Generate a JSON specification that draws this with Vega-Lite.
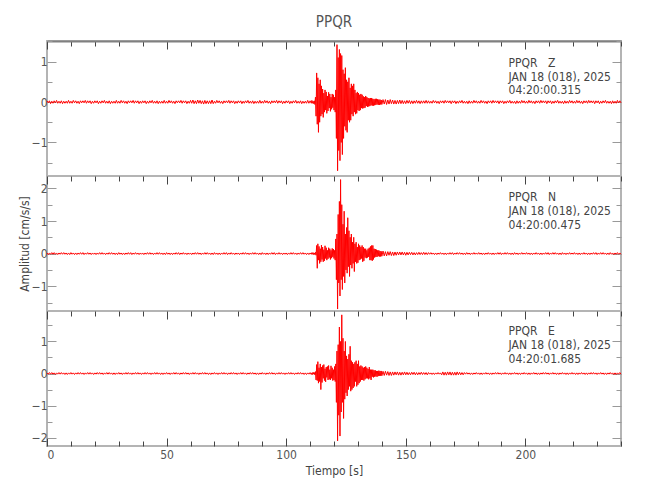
{
  "$schema": "https://vega.github.io/schema/vega-lite/v6.json",
  "background": "white",
  "padding": {"left": 17, "top": 14, "right": 5, "bottom": 5},
  "title": {"text": "PPQR", "fontSize": 15, "color": "#555555", "fontWeight": "normal", "anchor": "middle", "frame": "group", "offset": 10},
  "config": {
    "font": "Liberation Sans Narrow, DejaVu Sans Condensed, sans-serif",
    "view": {"stroke": "#b4b4b4", "strokeWidth": 2},
    "axis": {"domain": false, "grid": false, "labelColor": "#555555", "labelFontSize": 12, "titleColor": "#444444", "titleFontSize": 12, "titleFontWeight": "normal", "tickColor": "#444444"}
  },
  "spacing": 0,
  "bounds": "flush",
  "data": {"values": [
    {"t":0,"z":0.03,"n":0.02,"e":0.02},{"t":0.5,"z":-0.02,"n":-0.03,"e":-0.02},{"t":1,"z":0.03,"n":0.02,"e":0.03},{"t":1.5,"z":-0.04,"n":-0.02,"e":-0.02},{"t":2,"z":0.02,"n":0.03,"e":0.03},{"t":2.5,"z":-0.03,"n":-0.02,"e":-0.02},{"t":3,"z":0.03,"n":0.03,"e":0.02},{"t":3.5,"z":-0.02,"n":-0.02,"e":-0.03},{"t":4,"z":0.04,"n":0.02,"e":0.02},{"t":4.5,"z":-0.03,"n":-0.03,"e":-0.02},{"t":5,"z":0.02,"n":0.02,"e":0.03},{"t":5.5,"z":-0.03,"n":-0.02,"e":-0.02},{"t":6,"z":0.03,"n":0.03,"e":0.03},{"t":6.5,"z":-0.04,"n":-0.02,"e":-0.02},{"t":7,"z":0.02,"n":0.03,"e":0.02},{"t":7.5,"z":-0.03,"n":-0.02,"e":-0.03},{"t":8,"z":0.02,"n":0.02,"e":0.02},{"t":8.5,"z":-0.03,"n":-0.03,"e":-0.03},{"t":9,"z":0.04,"n":0.02,"e":0.02},{"t":9.5,"z":-0.03,"n":-0.03,"e":-0.02},
    {"t":10,"z":0.02,"n":0.03,"e":0.03},{"t":10.5,"z":-0.03,"n":-0.02,"e":-0.02},{"t":11,"z":0.04,"n":0.02,"e":0.02},{"t":11.5,"z":-0.02,"n":-0.03,"e":-0.03},{"t":12,"z":0.03,"n":0.02,"e":0.02},{"t":12.5,"z":-0.03,"n":-0.03,"e":-0.02},{"t":13,"z":0.02,"n":0.02,"e":0.03},{"t":13.5,"z":-0.04,"n":-0.02,"e":-0.02},{"t":14,"z":0.03,"n":0.03,"e":0.03},{"t":14.5,"z":-0.02,"n":-0.02,"e":-0.02},{"t":15,"z":0.03,"n":0.03,"e":0.02},{"t":15.5,"z":-0.02,"n":-0.03,"e":-0.03},{"t":16,"z":0.04,"n":0.02,"e":0.02},{"t":16.5,"z":-0.03,"n":-0.02,"e":-0.02},{"t":17,"z":0.03,"n":0.03,"e":0.03},{"t":17.5,"z":-0.02,"n":-0.02,"e":-0.02},{"t":18,"z":0.03,"n":0.02,"e":0.03},{"t":18.5,"z":-0.04,"n":-0.03,"e":-0.02},{"t":19,"z":0.02,"n":0.02,"e":0.02},{"t":19.5,"z":-0.03,"n":-0.02,"e":-0.03},
    {"t":20,"z":0.03,"n":0.02,"e":0.02},{"t":20.5,"z":-0.02,"n":-0.03,"e":-0.02},{"t":21,"z":0.03,"n":0.02,"e":0.03},{"t":21.5,"z":-0.04,"n":-0.02,"e":-0.02},{"t":22,"z":0.02,"n":0.03,"e":0.03},{"t":22.5,"z":-0.03,"n":-0.02,"e":-0.02},{"t":23,"z":0.03,"n":0.03,"e":0.02},{"t":23.5,"z":-0.02,"n":-0.02,"e":-0.03},{"t":24,"z":0.04,"n":0.02,"e":0.02},{"t":24.5,"z":-0.03,"n":-0.03,"e":-0.02},{"t":25,"z":0.02,"n":0.02,"e":0.03},{"t":25.5,"z":-0.03,"n":-0.02,"e":-0.02},{"t":26,"z":0.03,"n":0.03,"e":0.03},{"t":26.5,"z":-0.04,"n":-0.02,"e":-0.02},{"t":27,"z":0.02,"n":0.03,"e":0.02},{"t":27.5,"z":-0.03,"n":-0.02,"e":-0.03},{"t":28,"z":0.02,"n":0.02,"e":0.02},{"t":28.5,"z":-0.03,"n":-0.03,"e":-0.03},{"t":29,"z":0.04,"n":0.02,"e":0.02},{"t":29.5,"z":-0.03,"n":-0.03,"e":-0.02},
    {"t":30,"z":0.02,"n":0.03,"e":0.03},{"t":30.5,"z":-0.03,"n":-0.02,"e":-0.02},{"t":31,"z":0.04,"n":0.02,"e":0.02},{"t":31.5,"z":-0.02,"n":-0.03,"e":-0.03},{"t":32,"z":0.03,"n":0.02,"e":0.02},{"t":32.5,"z":-0.03,"n":-0.03,"e":-0.02},{"t":33,"z":0.02,"n":0.02,"e":0.03},{"t":33.5,"z":-0.04,"n":-0.02,"e":-0.02},{"t":34,"z":0.03,"n":0.03,"e":0.03},{"t":34.5,"z":-0.02,"n":-0.02,"e":-0.02},{"t":35,"z":0.03,"n":0.03,"e":0.02},{"t":35.5,"z":-0.02,"n":-0.03,"e":-0.03},{"t":36,"z":0.04,"n":0.02,"e":0.02},{"t":36.5,"z":-0.03,"n":-0.02,"e":-0.02},{"t":37,"z":0.03,"n":0.03,"e":0.03},{"t":37.5,"z":-0.02,"n":-0.02,"e":-0.02},{"t":38,"z":0.03,"n":0.02,"e":0.03},{"t":38.5,"z":-0.04,"n":-0.03,"e":-0.02},{"t":39,"z":0.02,"n":0.02,"e":0.02},{"t":39.5,"z":-0.03,"n":-0.02,"e":-0.03},
    {"t":40,"z":0.03,"n":0.02,"e":0.02},{"t":40.5,"z":-0.02,"n":-0.03,"e":-0.02},{"t":41,"z":0.03,"n":0.02,"e":0.03},{"t":41.5,"z":-0.04,"n":-0.02,"e":-0.02},{"t":42,"z":0.02,"n":0.03,"e":0.03},{"t":42.5,"z":-0.03,"n":-0.02,"e":-0.02},{"t":43,"z":0.03,"n":0.03,"e":0.02},{"t":43.5,"z":-0.02,"n":-0.02,"e":-0.03},{"t":44,"z":0.04,"n":0.02,"e":0.02},{"t":44.5,"z":-0.03,"n":-0.03,"e":-0.02},{"t":45,"z":0.02,"n":0.02,"e":0.03},{"t":45.5,"z":-0.03,"n":-0.02,"e":-0.02},{"t":46,"z":0.03,"n":0.03,"e":0.03},{"t":46.5,"z":-0.04,"n":-0.02,"e":-0.02},{"t":47,"z":0.02,"n":0.03,"e":0.02},{"t":47.5,"z":-0.03,"n":-0.02,"e":-0.03},{"t":48,"z":0.02,"n":0.02,"e":0.02},{"t":48.5,"z":-0.03,"n":-0.03,"e":-0.03},{"t":49,"z":0.04,"n":0.02,"e":0.02},{"t":49.5,"z":-0.03,"n":-0.03,"e":-0.02},
    {"t":50,"z":0.02,"n":0.03,"e":0.03},{"t":50.5,"z":-0.03,"n":-0.02,"e":-0.02},{"t":51,"z":0.04,"n":0.02,"e":0.02},{"t":51.5,"z":-0.02,"n":-0.03,"e":-0.03},{"t":52,"z":0.03,"n":0.02,"e":0.02},{"t":52.5,"z":-0.03,"n":-0.03,"e":-0.02},{"t":53,"z":0.02,"n":0.02,"e":0.03},{"t":53.5,"z":-0.04,"n":-0.02,"e":-0.02},{"t":54,"z":0.03,"n":0.03,"e":0.03},{"t":54.5,"z":-0.02,"n":-0.02,"e":-0.02},{"t":55,"z":0.03,"n":0.03,"e":0.02},{"t":55.5,"z":-0.02,"n":-0.03,"e":-0.03},{"t":56,"z":0.04,"n":0.02,"e":0.02},{"t":56.5,"z":-0.03,"n":-0.02,"e":-0.02},{"t":57,"z":0.03,"n":0.03,"e":0.03},{"t":57.5,"z":-0.02,"n":-0.02,"e":-0.02},{"t":58,"z":0.03,"n":0.02,"e":0.03},{"t":58.5,"z":-0.04,"n":-0.03,"e":-0.02},{"t":59,"z":0.02,"n":0.02,"e":0.02},{"t":59.5,"z":-0.03,"n":-0.02,"e":-0.03},
    {"t":60,"z":0.04,"n":0.02,"e":0.02},{"t":60.5,"z":-0.03,"n":-0.03,"e":-0.02},{"t":61,"z":0.05,"n":0.02,"e":0.03},{"t":61.5,"z":-0.04,"n":-0.02,"e":-0.02},{"t":62,"z":0.03,"n":0.03,"e":0.03},{"t":62.5,"z":-0.04,"n":-0.02,"e":-0.02},{"t":63,"z":0.05,"n":0.03,"e":0.02},{"t":63.5,"z":-0.03,"n":-0.02,"e":-0.03},{"t":64,"z":0.04,"n":0.02,"e":0.02},{"t":64.5,"z":-0.04,"n":-0.03,"e":-0.02},{"t":65,"z":0.03,"n":0.02,"e":0.03},{"t":65.5,"z":-0.05,"n":-0.02,"e":-0.02},{"t":66,"z":0.04,"n":0.03,"e":0.03},{"t":66.5,"z":-0.04,"n":-0.02,"e":-0.02},{"t":67,"z":0.03,"n":0.03,"e":0.02},{"t":67.5,"z":-0.04,"n":-0.02,"e":-0.03},{"t":68,"z":0.03,"n":0.02,"e":0.02},{"t":68.5,"z":-0.04,"n":-0.03,"e":-0.03},{"t":69,"z":0.05,"n":0.02,"e":0.02},{"t":69.5,"z":-0.04,"n":-0.03,"e":-0.02},
    {"t":70,"z":0.02,"n":0.03,"e":0.03},{"t":70.5,"z":-0.03,"n":-0.02,"e":-0.02},{"t":71,"z":0.04,"n":0.02,"e":0.02},{"t":71.5,"z":-0.02,"n":-0.03,"e":-0.03},{"t":72,"z":0.03,"n":0.02,"e":0.02},{"t":72.5,"z":-0.03,"n":-0.03,"e":-0.02},{"t":73,"z":0.02,"n":0.02,"e":0.03},{"t":73.5,"z":-0.04,"n":-0.02,"e":-0.02},{"t":74,"z":0.03,"n":0.03,"e":0.03},{"t":74.5,"z":-0.02,"n":-0.02,"e":-0.02},{"t":75,"z":0.03,"n":0.03,"e":0.02},{"t":75.5,"z":-0.02,"n":-0.03,"e":-0.03},{"t":76,"z":0.04,"n":0.02,"e":0.02},{"t":76.5,"z":-0.03,"n":-0.02,"e":-0.02},{"t":77,"z":0.03,"n":0.03,"e":0.03},{"t":77.5,"z":-0.02,"n":-0.02,"e":-0.02},{"t":78,"z":0.03,"n":0.02,"e":0.03},{"t":78.5,"z":-0.04,"n":-0.03,"e":-0.02},{"t":79,"z":0.02,"n":0.02,"e":0.02},{"t":79.5,"z":-0.03,"n":-0.02,"e":-0.03},
    {"t":80,"z":0.03,"n":0.02,"e":0.02},{"t":80.5,"z":-0.02,"n":-0.03,"e":-0.02},{"t":81,"z":0.03,"n":0.02,"e":0.03},{"t":81.5,"z":-0.04,"n":-0.02,"e":-0.02},{"t":82,"z":0.02,"n":0.03,"e":0.03},{"t":82.5,"z":-0.03,"n":-0.02,"e":-0.02},{"t":83,"z":0.03,"n":0.03,"e":0.02},{"t":83.5,"z":-0.02,"n":-0.02,"e":-0.03},{"t":84,"z":0.04,"n":0.02,"e":0.02},{"t":84.5,"z":-0.03,"n":-0.03,"e":-0.02},{"t":85,"z":0.02,"n":0.02,"e":0.03},{"t":85.5,"z":-0.03,"n":-0.02,"e":-0.02},{"t":86,"z":0.03,"n":0.03,"e":0.03},{"t":86.5,"z":-0.04,"n":-0.02,"e":-0.02},{"t":87,"z":0.02,"n":0.03,"e":0.02},{"t":87.5,"z":-0.03,"n":-0.02,"e":-0.03},{"t":88,"z":0.02,"n":0.02,"e":0.02},{"t":88.5,"z":-0.03,"n":-0.03,"e":-0.03},{"t":89,"z":0.04,"n":0.02,"e":0.02},{"t":89.5,"z":-0.03,"n":-0.03,"e":-0.02},
    {"t":90,"z":0.02,"n":0.03,"e":0.03},{"t":90.5,"z":-0.03,"n":-0.02,"e":-0.02},{"t":91,"z":0.04,"n":0.02,"e":0.02},{"t":91.5,"z":-0.02,"n":-0.03,"e":-0.03},{"t":92,"z":0.03,"n":0.02,"e":0.02},{"t":92.5,"z":-0.03,"n":-0.03,"e":-0.02},{"t":93,"z":0.02,"n":0.02,"e":0.03},{"t":93.5,"z":-0.04,"n":-0.02,"e":-0.02},{"t":94,"z":0.03,"n":0.03,"e":0.03},{"t":94.5,"z":-0.02,"n":-0.02,"e":-0.02},{"t":95,"z":0.03,"n":0.03,"e":0.02},{"t":95.5,"z":-0.02,"n":-0.03,"e":-0.03},{"t":96,"z":0.04,"n":0.02,"e":0.02},{"t":96.5,"z":-0.03,"n":-0.02,"e":-0.02},{"t":97,"z":0.03,"n":0.03,"e":0.03},{"t":97.5,"z":-0.02,"n":-0.02,"e":-0.02},{"t":98,"z":0.03,"n":0.02,"e":0.03},{"t":98.5,"z":-0.04,"n":-0.03,"e":-0.02},{"t":99,"z":0.02,"n":0.02,"e":0.02},{"t":99.5,"z":-0.03,"n":-0.02,"e":-0.03},
    {"t":100,"z":0.03,"n":0.02,"e":0.02},{"t":100.5,"z":-0.02,"n":-0.03,"e":-0.02},{"t":101,"z":0.03,"n":0.02,"e":0.03},{"t":101.5,"z":-0.04,"n":-0.02,"e":-0.02},{"t":102,"z":0.02,"n":0.03,"e":0.03},{"t":102.5,"z":-0.03,"n":-0.02,"e":-0.02},{"t":103,"z":0.03,"n":0.03,"e":0.02},{"t":103.5,"z":-0.02,"n":-0.02,"e":-0.03},{"t":104,"z":0.04,"n":0.02,"e":0.02},{"t":104.5,"z":-0.03,"n":-0.03,"e":-0.02},{"t":105,"z":0.02,"n":0.02,"e":0.03},{"t":105.5,"z":-0.03,"n":-0.02,"e":-0.02},{"t":106,"z":0.03,"n":0.03,"e":0.03},{"t":106.5,"z":-0.04,"n":-0.02,"e":-0.02},{"t":107,"z":0.02,"n":0.03,"e":0.02},{"t":107.5,"z":-0.03,"n":-0.02,"e":-0.03},{"t":108,"z":0.02,"n":0.02,"e":0.02},{"t":108.5,"z":-0.03,"n":-0.03,"e":-0.03},{"t":109,"z":0.04,"n":0.02,"e":0.02},{"t":109.5,"z":-0.03,"n":-0.03,"e":-0.02},
    {"t":110,"z":0.03,"n":0.02,"e":0.03},
    {"t":110.5,"z":-0.03,"n":-0.02,"e":-0.03},{"t":110.75,"z":0.04,"n":0.03,"e":0.02},{"t":111,"z":-0.03,"n":-0.02,"e":-0.03},{"t":111.25,"z":0.02,"n":0.03,"e":0.04},{"t":111.5,"z":-0.04,"n":-0.03,"e":-0.02},{"t":111.75,"z":0.03,"n":0.02,"e":0.03},{"t":112,"z":-0.06,"n":-0.03,"e":-0.04},{"t":112.25,"z":0.12,"n":0.04,"e":0.06},{"t":112.5,"z":-0.35,"n":-0.05,"e":-0.2},{"t":112.75,"z":0.72,"n":0.25,"e":0.28},
    {"t":113,"z":-0.55,"n":-0.45,"e":-0.22},{"t":113.25,"z":0.6,"n":0.3,"e":0.37},{"t":113.5,"z":-0.75,"n":-0.2,"e":-0.3},{"t":113.75,"z":0.45,"n":0.22,"e":0.18},{"t":114,"z":-0.5,"n":-0.3,"e":-0.25},{"t":114.25,"z":0.55,"n":0.15,"e":0.3},{"t":114.5,"z":-0.35,"n":-0.25,"e":-0.5},{"t":114.75,"z":0.4,"n":0.26,"e":0.2},{"t":115,"z":-0.3,"n":-0.18,"e":-0.28},{"t":115.25,"z":0.32,"n":0.2,"e":0.25},
    {"t":115.5,"z":-0.38,"n":-0.25,"e":-0.15},{"t":115.75,"z":0.22,"n":0.12,"e":0.28},{"t":116,"z":-0.25,"n":-0.22,"e":-0.22},{"t":116.25,"z":0.3,"n":0.24,"e":0.15},{"t":116.5,"z":-0.2,"n":-0.15,"e":-0.26},{"t":116.75,"z":0.25,"n":0.18,"e":0.2},{"t":117,"z":-0.28,"n":-0.2,"e":-0.12},{"t":117.25,"z":0.15,"n":0.1,"e":0.22},{"t":117.5,"z":-0.22,"n":-0.16,"e":-0.2},{"t":117.75,"z":0.24,"n":0.18,"e":0.25},
    {"t":118,"z":-0.15,"n":-0.12,"e":-0.18},{"t":118.25,"z":0.2,"n":0.15,"e":0.12},{"t":118.5,"z":-0.23,"n":-0.18,"e":-0.2},{"t":118.75,"z":0.12,"n":0.1,"e":0.24},{"t":119,"z":-0.18,"n":-0.14,"e":-0.15},{"t":119.25,"z":0.2,"n":0.16,"e":0.18},{"t":119.5,"z":-0.14,"n":-0.1,"e":-0.22},{"t":119.75,"z":0.18,"n":0.14,"e":0.12},{"t":120,"z":-0.2,"n":-0.15,"e":-0.2},{"t":120.25,"z":0.12,"n":0.1,"e":0.22},
    {"t":120.5,"z":-0.25,"n":-0.2,"e":-0.25},{"t":120.75,"z":0.3,"n":0.45,"e":0.3},{"t":121,"z":-0.9,"n":-0.8,"e":-0.9},{"t":121.25,"z":1.42,"n":0.6,"e":0.7},{"t":121.5,"z":-1.7,"n":-1.7,"e":-2.1},{"t":121.75,"z":1.1,"n":1.2,"e":0.9},{"t":122,"z":-1.2,"n":-0.9,"e":-1.3},{"t":122.25,"z":1.3,"n":1.6,"e":1.45},{"t":122.5,"z":-1.45,"n":-1.3,"e":-1.95},{"t":122.75,"z":1.2,"n":2.27,"e":1.0},
    {"t":123,"z":-1.0,"n":-0.8,"e":-1.2},{"t":123.25,"z":1.15,"n":1.5,"e":1.83},{"t":123.5,"z":-1.3,"n":-1.1,"e":-0.9},{"t":123.75,"z":0.8,"n":0.9,"e":1.1},{"t":124,"z":-0.9,"n":-0.7,"e":-1.4},{"t":124.25,"z":0.7,"n":1.3,"e":0.7},{"t":124.5,"z":-0.6,"n":-0.9,"e":-0.8},{"t":124.75,"z":0.85,"n":0.6,"e":1.0},{"t":125,"z":-0.7,"n":-0.5,"e":-0.6},{"t":125.25,"z":0.55,"n":0.8,"e":0.55},
    {"t":125.5,"z":-0.75,"n":-0.6,"e":-0.7},{"t":125.75,"z":0.5,"n":1.1,"e":0.45},{"t":126,"z":-0.45,"n":-0.4,"e":-0.5},{"t":126.25,"z":0.6,"n":0.7,"e":0.6},{"t":126.5,"z":-0.5,"n":-0.7,"e":-0.4},{"t":126.75,"z":0.35,"n":0.5,"e":0.85},{"t":127,"z":-0.45,"n":-0.35,"e":-0.55},{"t":127.25,"z":0.45,"n":0.6,"e":0.4},{"t":127.5,"z":-0.3,"n":-0.45,"e":-0.5},{"t":127.75,"z":0.4,"n":0.35,"e":0.35},
    {"t":128,"z":-0.35,"n":-0.3,"e":-0.45},{"t":128.25,"z":0.45,"n":0.5,"e":0.3},{"t":128.5,"z":-0.25,"n":-0.55,"e":-0.4},{"t":128.75,"z":0.3,"n":0.3,"e":0.35},{"t":129,"z":-0.3,"n":-0.25,"e":-0.25},{"t":129.25,"z":0.22,"n":0.35,"e":0.4},{"t":129.5,"z":-0.28,"n":-0.3,"e":-0.4},{"t":129.75,"z":0.25,"n":0.2,"e":0.3},{"t":130,"z":-0.2,"n":-0.28,"e":-0.35},{"t":130.25,"z":0.22,"n":0.3,"e":0.4},
    {"t":130.5,"z":-0.22,"n":-0.2,"e":-0.3},{"t":130.75,"z":0.18,"n":0.25,"e":0.22},{"t":131,"z":-0.2,"n":-0.18,"e":-0.25},{"t":131.25,"z":0.2,"n":0.2,"e":0.25},{"t":131.5,"z":-0.15,"n":-0.15,"e":-0.2},{"t":131.75,"z":0.18,"n":0.25,"e":0.22},{"t":132,"z":-0.16,"n":-0.25,"e":-0.2},{"t":132.25,"z":0.14,"n":0.2,"e":0.18},{"t":132.5,"z":-0.15,"n":-0.22,"e":-0.22},{"t":132.75,"z":0.12,"n":0.15,"e":0.2},
    {"t":133,"z":-0.14,"n":-0.12,"e":-0.18},{"t":133.25,"z":0.15,"n":0.15,"e":0.22},{"t":133.5,"z":-0.1,"n":-0.14,"e":-0.15},{"t":133.75,"z":0.12,"n":0.1,"e":0.18},{"t":134,"z":-0.12,"n":-0.12,"e":-0.15},{"t":134.25,"z":0.1,"n":0.15,"e":0.14},{"t":134.5,"z":-0.11,"n":-0.1,"e":-0.18},{"t":134.75,"z":0.09,"n":0.18,"e":0.2},{"t":135,"z":-0.1,"n":-0.2,"e":-0.15},{"t":135.25,"z":0.1,"n":0.22,"e":0.12},
    {"t":135.5,"z":-0.08,"n":-0.2,"e":-0.2},{"t":135.75,"z":0.1,"n":0.25,"e":0.12},{"t":136,"z":-0.09,"n":-0.22,"e":-0.1},{"t":136.25,"z":0.08,"n":0.25,"e":0.12},{"t":136.5,"z":-0.09,"n":-0.18,"e":-0.12},{"t":136.75,"z":0.07,"n":0.15,"e":0.1},{"t":137,"z":-0.08,"n":-0.12,"e":-0.1},{"t":137.25,"z":0.08,"n":0.14,"e":0.1},{"t":137.5,"z":-0.07,"n":-0.1,"e":-0.09},{"t":137.75,"z":0.08,"n":0.12,"e":0.08},
    {"t":138,"z":-0.06,"n":-0.1,"e":-0.1},{"t":138.25,"z":0.07,"n":0.1,"e":0.08},{"t":138.5,"z":-0.07,"n":-0.08,"e":-0.08},{"t":138.75,"z":0.06,"n":0.1,"e":0.09},{"t":139,"z":-0.07,"n":-0.09,"e":-0.07},{"t":139.25,"z":0.06,"n":0.08,"e":0.08},{"t":139.5,"z":-0.06,"n":-0.09,"e":-0.07},{"t":139.75,"z":0.05,"n":0.07,"e":0.08},{"t":140,"z":-0.06,"n":-0.08,"e":-0.07},
    {"t":140.5,"z":0.06,"n":0.08,"e":0.07},{"t":141,"z":-0.05,"n":-0.07,"e":-0.06},{"t":141.5,"z":0.06,"n":0.06,"e":0.07},{"t":142,"z":-0.06,"n":-0.07,"e":-0.05},{"t":142.5,"z":0.05,"n":0.06,"e":0.06},{"t":143,"z":-0.05,"n":-0.05,"e":-0.06},{"t":143.5,"z":0.06,"n":0.06,"e":0.05},{"t":144,"z":-0.04,"n":-0.06,"e":-0.06},{"t":144.5,"z":0.05,"n":0.05,"e":0.05},{"t":145,"z":-0.05,"n":-0.06,"e":-0.05},
    {"t":145.5,"z":0.04,"n":0.05,"e":0.05},{"t":146,"z":-0.05,"n":-0.05,"e":-0.04},{"t":146.5,"z":0.04,"n":0.05,"e":0.05},{"t":147,"z":-0.04,"n":-0.04,"e":-0.05},{"t":147.5,"z":0.05,"n":0.05,"e":0.04},{"t":148,"z":-0.04,"n":-0.04,"e":-0.05},{"t":148.5,"z":0.04,"n":0.05,"e":0.04},{"t":149,"z":-0.04,"n":-0.04,"e":-0.04},{"t":149.5,"z":0.03,"n":0.04,"e":0.05},
    {"t":150,"z":-0.04,"n":-0.05,"e":-0.04},{"t":150.5,"z":0.04,"n":0.04,"e":0.04},{"t":151,"z":-0.03,"n":-0.04,"e":-0.04},{"t":151.5,"z":0.04,"n":0.04,"e":0.03},{"t":152,"z":-0.04,"n":-0.03,"e":-0.04},{"t":152.5,"z":0.03,"n":0.04,"e":0.04},{"t":153,"z":-0.04,"n":-0.04,"e":-0.03},{"t":153.5,"z":0.03,"n":0.03,"e":0.04},{"t":154,"z":-0.03,"n":-0.04,"e":-0.04},{"t":154.5,"z":0.04,"n":0.03,"e":0.03},
    {"t":155,"z":-0.03,"n":-0.03,"e":-0.04},{"t":155.5,"z":0.03,"n":0.04,"e":0.03},{"t":156,"z":-0.04,"n":-0.03,"e":-0.03},{"t":156.5,"z":0.03,"n":0.03,"e":0.04},{"t":157,"z":-0.03,"n":-0.03,"e":-0.03},{"t":157.5,"z":0.03,"n":0.04,"e":0.03},{"t":158,"z":-0.03,"n":-0.03,"e":-0.03},{"t":158.5,"z":0.04,"n":0.03,"e":0.03},{"t":159,"z":-0.03,"n":-0.03,"e":-0.04},{"t":159.5,"z":0.03,"n":0.03,"e":0.03},
    {"t":160,"z":-0.03,"n":-0.02,"e":-0.02},{"t":160.5,"z":0.02,"n":0.03,"e":0.02},{"t":161,"z":-0.03,"n":-0.02,"e":-0.03},{"t":161.5,"z":0.04,"n":0.02,"e":0.02},{"t":162,"z":-0.02,"n":-0.03,"e":-0.03},{"t":162.5,"z":0.03,"n":0.02,"e":0.02},{"t":163,"z":-0.03,"n":-0.03,"e":-0.02},{"t":163.5,"z":0.02,"n":0.02,"e":0.03},{"t":164,"z":-0.04,"n":-0.02,"e":-0.02},{"t":164.5,"z":0.03,"n":0.03,"e":0.02},{"t":165,"z":-0.02,"n":-0.02,"e":-0.04},{"t":165.5,"z":0.03,"n":0.02,"e":0.05},{"t":166,"z":-0.03,"n":-0.03,"e":-0.05},{"t":166.5,"z":0.04,"n":0.02,"e":0.04},{"t":167,"z":-0.02,"n":-0.03,"e":-0.05},{"t":167.5,"z":0.03,"n":0.02,"e":0.05},{"t":168,"z":-0.02,"n":-0.02,"e":-0.04},{"t":168.5,"z":0.03,"n":0.03,"e":0.05},{"t":169,"z":-0.04,"n":-0.02,"e":-0.05},{"t":169.5,"z":0.03,"n":0.03,"e":0.04},
    {"t":170,"z":-0.02,"n":-0.03,"e":-0.05},{"t":170.5,"z":0.03,"n":0.02,"e":0.04},{"t":171,"z":-0.04,"n":-0.02,"e":-0.05},{"t":171.5,"z":0.02,"n":0.03,"e":0.05},{"t":172,"z":-0.03,"n":-0.02,"e":-0.04},{"t":172.5,"z":0.03,"n":0.03,"e":0.04},{"t":173,"z":-0.02,"n":-0.02,"e":-0.04},{"t":173.5,"z":0.04,"n":0.02,"e":0.03},{"t":174,"z":-0.03,"n":-0.03,"e":-0.04},{"t":174.5,"z":0.02,"n":0.02,"e":0.03},{"t":175,"z":-0.03,"n":-0.03,"e":-0.02},{"t":175.5,"z":0.02,"n":0.03,"e":0.03},{"t":176,"z":-0.04,"n":-0.02,"e":-0.02},{"t":176.5,"z":0.03,"n":0.02,"e":0.02},{"t":177,"z":-0.03,"n":-0.03,"e":-0.03},{"t":177.5,"z":0.02,"n":0.02,"e":0.02},{"t":178,"z":-0.03,"n":-0.02,"e":-0.03},{"t":178.5,"z":0.04,"n":0.03,"e":0.02},{"t":179,"z":-0.02,"n":-0.02,"e":-0.02},{"t":179.5,"z":0.03,"n":0.02,"e":0.03},
    {"t":180,"z":-0.03,"n":-0.02,"e":-0.02},{"t":180.5,"z":0.02,"n":0.03,"e":0.02},{"t":181,"z":-0.03,"n":-0.02,"e":-0.03},{"t":181.5,"z":0.04,"n":0.02,"e":0.02},{"t":182,"z":-0.02,"n":-0.03,"e":-0.03},{"t":182.5,"z":0.03,"n":0.02,"e":0.02},{"t":183,"z":-0.03,"n":-0.03,"e":-0.02},{"t":183.5,"z":0.02,"n":0.02,"e":0.03},{"t":184,"z":-0.04,"n":-0.02,"e":-0.02},{"t":184.5,"z":0.03,"n":0.03,"e":0.02},{"t":185,"z":-0.02,"n":-0.02,"e":-0.03},{"t":185.5,"z":0.03,"n":0.02,"e":0.02},{"t":186,"z":-0.03,"n":-0.03,"e":-0.03},{"t":186.5,"z":0.04,"n":0.02,"e":0.02},{"t":187,"z":-0.02,"n":-0.03,"e":-0.02},{"t":187.5,"z":0.03,"n":0.02,"e":0.03},{"t":188,"z":-0.02,"n":-0.02,"e":-0.02},{"t":188.5,"z":0.03,"n":0.03,"e":0.03},{"t":189,"z":-0.04,"n":-0.02,"e":-0.02},{"t":189.5,"z":0.03,"n":0.03,"e":0.02},
    {"t":190,"z":-0.02,"n":-0.03,"e":-0.03},{"t":190.5,"z":0.03,"n":0.02,"e":0.02},{"t":191,"z":-0.04,"n":-0.02,"e":-0.02},{"t":191.5,"z":0.02,"n":0.03,"e":0.03},{"t":192,"z":-0.03,"n":-0.02,"e":-0.02},{"t":192.5,"z":0.03,"n":0.03,"e":0.02},{"t":193,"z":-0.02,"n":-0.02,"e":-0.03},{"t":193.5,"z":0.04,"n":0.02,"e":0.02},{"t":194,"z":-0.03,"n":-0.03,"e":-0.03},{"t":194.5,"z":0.02,"n":0.02,"e":0.02},{"t":195,"z":-0.03,"n":-0.03,"e":-0.02},{"t":195.5,"z":0.02,"n":0.03,"e":0.03},{"t":196,"z":-0.04,"n":-0.02,"e":-0.02},{"t":196.5,"z":0.03,"n":0.02,"e":0.02},{"t":197,"z":-0.03,"n":-0.03,"e":-0.03},{"t":197.5,"z":0.02,"n":0.02,"e":0.02},{"t":198,"z":-0.03,"n":-0.02,"e":-0.03},{"t":198.5,"z":0.04,"n":0.03,"e":0.02},{"t":199,"z":-0.02,"n":-0.02,"e":-0.02},{"t":199.5,"z":0.03,"n":0.02,"e":0.03},
    {"t":200,"z":-0.03,"n":-0.02,"e":-0.02},{"t":200.5,"z":0.02,"n":0.03,"e":0.02},{"t":201,"z":-0.03,"n":-0.02,"e":-0.03},{"t":201.5,"z":0.04,"n":0.02,"e":0.02},{"t":202,"z":-0.02,"n":-0.03,"e":-0.03},{"t":202.5,"z":0.03,"n":0.02,"e":0.02},{"t":203,"z":-0.03,"n":-0.03,"e":-0.02},{"t":203.5,"z":0.02,"n":0.02,"e":0.03},{"t":204,"z":-0.04,"n":-0.02,"e":-0.02},{"t":204.5,"z":0.03,"n":0.03,"e":0.02},{"t":205,"z":-0.02,"n":-0.02,"e":-0.03},{"t":205.5,"z":0.03,"n":0.02,"e":0.02},{"t":206,"z":-0.03,"n":-0.03,"e":-0.03},{"t":206.5,"z":0.04,"n":0.02,"e":0.02},{"t":207,"z":-0.02,"n":-0.03,"e":-0.02},{"t":207.5,"z":0.03,"n":0.02,"e":0.03},{"t":208,"z":-0.02,"n":-0.02,"e":-0.02},{"t":208.5,"z":0.03,"n":0.03,"e":0.03},{"t":209,"z":-0.04,"n":-0.02,"e":-0.02},{"t":209.5,"z":0.03,"n":0.03,"e":0.02},
    {"t":210,"z":-0.02,"n":-0.03,"e":-0.03},{"t":210.5,"z":0.03,"n":0.02,"e":0.02},{"t":211,"z":-0.04,"n":-0.02,"e":-0.02},{"t":211.5,"z":0.02,"n":0.03,"e":0.03},{"t":212,"z":-0.03,"n":-0.02,"e":-0.02},{"t":212.5,"z":0.03,"n":0.03,"e":0.02},{"t":213,"z":-0.02,"n":-0.02,"e":-0.03},{"t":213.5,"z":0.04,"n":0.02,"e":0.02},{"t":214,"z":-0.03,"n":-0.03,"e":-0.03},{"t":214.5,"z":0.02,"n":0.02,"e":0.02},{"t":215,"z":-0.03,"n":-0.03,"e":-0.02},{"t":215.5,"z":0.02,"n":0.03,"e":0.03},{"t":216,"z":-0.04,"n":-0.02,"e":-0.02},{"t":216.5,"z":0.03,"n":0.02,"e":0.02},{"t":217,"z":-0.03,"n":-0.03,"e":-0.03},{"t":217.5,"z":0.02,"n":0.02,"e":0.02},{"t":218,"z":-0.03,"n":-0.02,"e":-0.03},{"t":218.5,"z":0.04,"n":0.03,"e":0.02},{"t":219,"z":-0.02,"n":-0.02,"e":-0.02},{"t":219.5,"z":0.03,"n":0.02,"e":0.03},
    {"t":220,"z":-0.03,"n":-0.02,"e":-0.02},{"t":220.5,"z":0.02,"n":0.03,"e":0.02},{"t":221,"z":-0.03,"n":-0.02,"e":-0.03},{"t":221.5,"z":0.04,"n":0.02,"e":0.02},{"t":222,"z":-0.02,"n":-0.03,"e":-0.03},{"t":222.5,"z":0.03,"n":0.02,"e":0.02},{"t":223,"z":-0.03,"n":-0.03,"e":-0.02},{"t":223.5,"z":0.02,"n":0.02,"e":0.03},{"t":224,"z":-0.04,"n":-0.02,"e":-0.02},{"t":224.5,"z":0.03,"n":0.03,"e":0.02},{"t":225,"z":-0.02,"n":-0.02,"e":-0.03},{"t":225.5,"z":0.03,"n":0.02,"e":0.02},{"t":226,"z":-0.03,"n":-0.03,"e":-0.03},{"t":226.5,"z":0.04,"n":0.02,"e":0.02},{"t":227,"z":-0.02,"n":-0.03,"e":-0.02},{"t":227.5,"z":0.03,"n":0.02,"e":0.03},{"t":228,"z":-0.02,"n":-0.02,"e":-0.02},{"t":228.5,"z":0.03,"n":0.03,"e":0.03},{"t":229,"z":-0.04,"n":-0.02,"e":-0.02},{"t":229.5,"z":0.03,"n":0.03,"e":0.02},
    {"t":230,"z":-0.02,"n":-0.03,"e":-0.03},{"t":230.5,"z":0.03,"n":0.02,"e":0.02},{"t":231,"z":-0.04,"n":-0.02,"e":-0.02},{"t":231.5,"z":0.02,"n":0.03,"e":0.03},{"t":232,"z":-0.03,"n":-0.02,"e":-0.02},{"t":232.5,"z":0.03,"n":0.03,"e":0.02},{"t":233,"z":-0.02,"n":-0.02,"e":-0.03},{"t":233.5,"z":0.04,"n":0.02,"e":0.02},{"t":234,"z":-0.03,"n":-0.03,"e":-0.03},{"t":234.5,"z":0.02,"n":0.02,"e":0.02},{"t":235,"z":-0.03,"n":-0.03,"e":-0.02},{"t":235.5,"z":0.02,"n":0.03,"e":0.03},{"t":236,"z":-0.04,"n":-0.02,"e":-0.02},{"t":236.5,"z":0.03,"n":0.02,"e":0.02},{"t":237,"z":-0.03,"n":-0.03,"e":-0.03},{"t":237.5,"z":0.02,"n":0.02,"e":0.02},{"t":238,"z":-0.03,"n":-0.02,"e":-0.03},{"t":238.5,"z":0.04,"n":0.03,"e":0.02},{"t":239,"z":-0.02,"n":-0.02,"e":-0.02},{"t":239.5,"z":0.03,"n":0.02,"e":0.03},
    {"t":240,"z":-0.02,"n":-0.02,"e":-0.02}
  ]},
  "vconcat": [
    {
      "width": 574, "height": 135,
      "resolve": {"axis": {"x": "independent", "y": "independent"}},
      "layer": [
        {
          "mark": {"type": "line", "color": "#ff0000", "strokeWidth": 1},
          "encoding": {
            "x": {"field": "t", "type": "quantitative", "scale": {"domain": [0, 240], "nice": false, "zero": false},
              "axis": {"orient": "top", "labels": false, "title": null, "values": [0,10,20,30,40,50,60,70,80,90,100,110,120,130,140,150,160,170,180,190,200,210,220,230,240], "tickSize": {"condition": {"test": "datum.value % 50 === 0", "value": -8}, "value": -5}, "domain": true, "domainColor": "#808080", "domainWidth": 2}},
            "y": {"field": "z", "type": "quantitative", "scale": {"domain": [-1.83, 1.51], "nice": false, "zero": false},
              "axis": {"orient": "left", "ticks": false, "values": [-1, 0, 1], "labelPadding": 0, "title": null}}
          }
        },
        {
          "mark": {"type": "point", "opacity": 0},
          "encoding": {
            "x": {"field": "t", "type": "quantitative", "scale": {"domain": [0, 240], "nice": false, "zero": false}, "axis": null},
            "y": {"field": "z", "type": "quantitative", "scale": {"domain": [-1.83, 1.51], "nice": false, "zero": false},
              "axis": {"orient": "left", "labels": false, "title": null, "values": [-1.5,-1,-0.5,0,0.5,1,1.5], "tickColor": "#999999", "tickSize": {"condition": {"test": "datum.value % 1 === 0", "value": -9}, "value": -5}}}
          }
        },
        {
          "mark": {"type": "point", "opacity": 0},
          "encoding": {
            "x": {"field": "t", "type": "quantitative", "scale": {"domain": [0, 240], "nice": false, "zero": false}, "axis": null},
            "y": {"field": "z", "type": "quantitative", "scale": {"domain": [-1.83, 1.51], "nice": false, "zero": false},
              "axis": {"orient": "right", "labels": false, "title": null, "values": [-1.5,-1,-0.5,0,0.5,1,1.5], "tickColor": "#999999", "tickSize": {"condition": {"test": "datum.value % 1 === 0", "value": -9}, "value": -5}}}
          }
        },
        {
          "data": {"values": [{}]},
          "mark": {"type": "text", "align": "left", "baseline": "top", "fontSize": 12, "lineHeight": 13.5, "color": "#444444", "text": ["PPQR\u00a0\u00a0\u00a0Z", "JAN 18 (018), 2025", "04:20:00.315"]},
          "encoding": {
            "x": {"datum": 193, "type": "quantitative", "scale": {"domain": [0, 240], "nice": false, "zero": false}, "axis": null},
            "y": {"datum": 1.085, "type": "quantitative", "scale": {"domain": [-1.83, 1.51], "nice": false, "zero": false}, "axis": null}
          }
        }
      ]
    },
    {
      "width": 574, "height": 135,
      "resolve": {"axis": {"x": "independent", "y": "independent"}},
      "layer": [
        {
          "mark": {"type": "line", "color": "#ff0000", "strokeWidth": 1},
          "encoding": {
            "x": {"field": "t", "type": "quantitative", "scale": {"domain": [0, 240], "nice": false, "zero": false},
              "axis": {"orient": "top", "labels": false, "title": null, "values": [0,10,20,30,40,50,60,70,80,90,100,110,120,130,140,150,160,170,180,190,200,210,220,230,240], "tickSize": {"condition": {"test": "datum.value % 50 === 0", "value": -8}, "value": -5}}},
            "y": {"field": "n", "type": "quantitative", "scale": {"domain": [-1.76, 2.38], "nice": false, "zero": false},
              "axis": {"orient": "left", "ticks": false, "values": [-1, 0, 1, 2], "labelPadding": 0, "title": "Amplitud [cm/s/s]", "titlePadding": 0}}
          }
        },
        {
          "mark": {"type": "point", "opacity": 0},
          "encoding": {
            "x": {"field": "t", "type": "quantitative", "scale": {"domain": [0, 240], "nice": false, "zero": false}, "axis": null},
            "y": {"field": "n", "type": "quantitative", "scale": {"domain": [-1.76, 2.38], "nice": false, "zero": false},
              "axis": {"orient": "left", "labels": false, "title": null, "values": [-1.5,-1,-0.5,0,0.5,1,1.5,2], "tickColor": "#999999", "tickSize": {"condition": {"test": "datum.value % 1 === 0", "value": -9}, "value": -5}}}
          }
        },
        {
          "mark": {"type": "point", "opacity": 0},
          "encoding": {
            "x": {"field": "t", "type": "quantitative", "scale": {"domain": [0, 240], "nice": false, "zero": false}, "axis": null},
            "y": {"field": "n", "type": "quantitative", "scale": {"domain": [-1.76, 2.38], "nice": false, "zero": false},
              "axis": {"orient": "right", "labels": false, "title": null, "values": [-1.5,-1,-0.5,0,0.5,1,1.5,2], "tickColor": "#999999", "tickSize": {"condition": {"test": "datum.value % 1 === 0", "value": -9}, "value": -5}}}
          }
        },
        {
          "data": {"values": [{}]},
          "mark": {"type": "text", "align": "left", "baseline": "top", "fontSize": 12, "lineHeight": 14, "color": "#444444", "text": ["PPQR\u00a0\u00a0\u00a0N", "JAN 18 (018), 2025", "04:20:00.475"]},
          "encoding": {
            "x": {"datum": 193, "type": "quantitative", "scale": {"domain": [0, 240], "nice": false, "zero": false}, "axis": null},
            "y": {"datum": 1.88, "type": "quantitative", "scale": {"domain": [-1.76, 2.38], "nice": false, "zero": false}, "axis": null}
          }
        }
      ]
    },
    {
      "width": 574, "height": 135,
      "resolve": {"axis": {"x": "independent", "y": "independent"}},
      "layer": [
        {
          "mark": {"type": "line", "color": "#ff0000", "strokeWidth": 1},
          "encoding": {
            "x": {"field": "t", "type": "quantitative", "scale": {"domain": [0, 240], "nice": false, "zero": false},
              "axis": {"orient": "top", "labels": false, "title": null, "values": [0,10,20,30,40,50,60,70,80,90,100,110,120,130,140,150,160,170,180,190,200,210,220,230,240], "tickSize": {"condition": {"test": "datum.value % 50 === 0", "value": -8}, "value": -5}}},
            "y": {"field": "e", "type": "quantitative", "scale": {"domain": [-2.26, 1.95], "nice": false, "zero": false},
              "axis": {"orient": "left", "ticks": false, "values": [-2, -1, 0, 1], "labelPadding": 0, "title": null}}
          }
        },
        {
          "mark": {"type": "point", "opacity": 0},
          "encoding": {
            "x": {"field": "t", "type": "quantitative", "scale": {"domain": [0, 240], "nice": false, "zero": false},
              "axis": {"orient": "bottom", "ticks": false, "values": [0, 50, 100, 150, 200], "labelPadding": 3, "title": "Tiempo [s]", "titlePadding": 5}},
            "y": {"field": "e", "type": "quantitative", "scale": {"domain": [-2.26, 1.95], "nice": false, "zero": false},
              "axis": {"orient": "left", "labels": false, "title": null, "values": [-2,-1.5,-1,-0.5,0,0.5,1,1.5], "tickColor": "#999999", "tickSize": {"condition": {"test": "datum.value % 1 === 0", "value": -9}, "value": -5}}}
          }
        },
        {
          "mark": {"type": "point", "opacity": 0},
          "encoding": {
            "x": {"field": "t", "type": "quantitative", "scale": {"domain": [0, 240], "nice": false, "zero": false},
              "axis": {"orient": "bottom", "labels": false, "title": null, "values": [0,10,20,30,40,50,60,70,80,90,100,110,120,130,140,150,160,170,180,190,200,210,220,230,240], "tickSize": {"condition": {"test": "datum.value % 50 === 0", "value": -8}, "value": -5}}},
            "y": {"field": "e", "type": "quantitative", "scale": {"domain": [-2.26, 1.95], "nice": false, "zero": false},
              "axis": {"orient": "right", "labels": false, "title": null, "values": [-2,-1.5,-1,-0.5,0,0.5,1,1.5], "tickColor": "#999999", "tickSize": {"condition": {"test": "datum.value % 1 === 0", "value": -9}, "value": -5}}}
          }
        },
        {
          "data": {"values": [{}]},
          "mark": {"type": "text", "align": "left", "baseline": "top", "fontSize": 12, "lineHeight": 14, "color": "#444444", "text": ["PPQR\u00a0\u00a0\u00a0E", "JAN 18 (018), 2025", "04:20:01.685"]},
          "encoding": {
            "x": {"datum": 193, "type": "quantitative", "scale": {"domain": [0, 240], "nice": false, "zero": false}, "axis": null},
            "y": {"datum": 1.49, "type": "quantitative", "scale": {"domain": [-2.26, 1.95], "nice": false, "zero": false}, "axis": null}
          }
        }
      ]
    }
  ]
}
